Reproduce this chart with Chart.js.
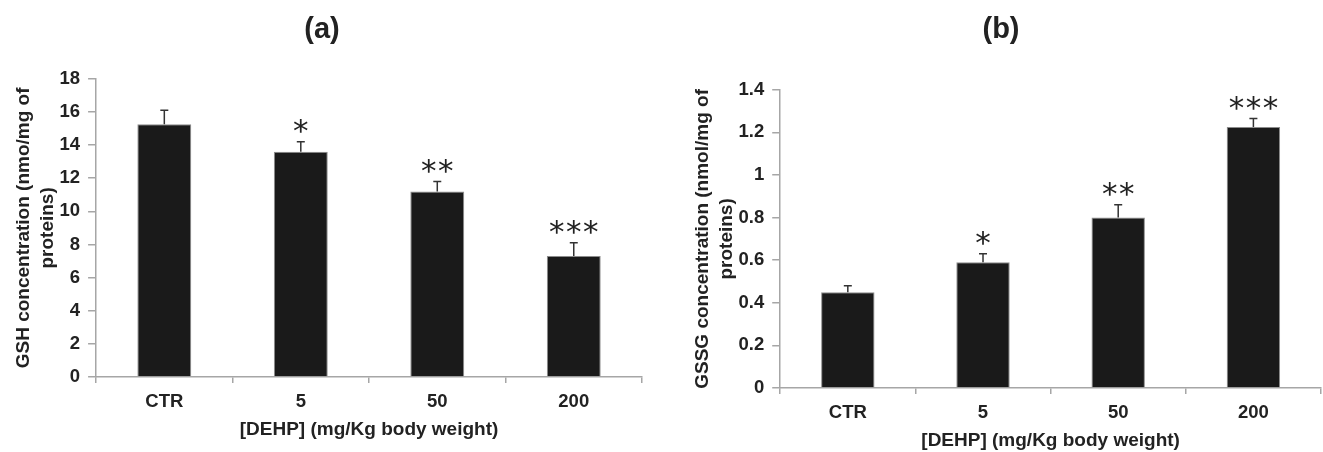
<!DOCTYPE html>
<html>
<head>
<meta charset="utf-8">
<script src="https://cdn.jsdelivr.net/npm/chart.js@4.4.1/dist/chart.umd.min.js"></script>
<style>
  html, body { margin: 0; padding: 0; background: #fff; }
  #wrap { position: relative; width: 1323px; height: 452px; }
  .box { position: absolute; top: 0; height: 452px; }
  #box-a { left: 0; width: 670px; }
  #box-b { left: 676px; width: 647px; }
</style>
</head>
<body>
<div id="wrap">
  <div class="box" id="box-a"><canvas id="chart-a"></canvas></div>
  <div class="box" id="box-b"><canvas id="chart-b"></canvas></div>
</div>
<script>
'use strict';

// ── Data ──────────────────────────────────────────────────────
const categories = ['CTR', '5', '50', '200'];
const gshValues  = [15.25, 13.6, 11.2, 7.3];
const gshErrors  = [0.85, 0.6, 0.6, 0.8];
const gssgValues = [0.45, 0.59, 0.80, 1.225];
const gssgErrors = [0.03, 0.04, 0.06, 0.04];
const starCounts = [0, 1, 2, 3];
const gshTicks   = ['0', '2', '4', '6', '8', '10', '12', '14', '16', '18'];
const gssgTicks  = ['0', '0.2', '0.4', '0.6', '0.8', '1', '1.2', '1.4'];

const FONT = '"Liberation Sans", Arial, Helvetica, sans-serif';
const AXIS = '#a6a6a6';
const INK  = '#222222';

// ── Error bars + significance stars ───────────────────────────
const errorBarPlugin = {
  id: 'errorBars',
  afterDatasetsDraw(chart, args, opts) {
    const { ctx } = chart;
    const y    = chart.scales.y;
    const meta = chart.getDatasetMeta(0);
    const vals = chart.data.datasets[0].data;
    ctx.save();
    ctx.strokeStyle = '#333';
    ctx.lineWidth = 1.5;
    ctx.fillStyle = INK;
    ctx.font = '31px "DejaVu Sans", sans-serif';
    ctx.textAlign = 'center';
    ctx.textBaseline = 'alphabetic';
    meta.data.forEach((bar, i) => {
      const top = y.getPixelForValue(vals[i] + opts.errors[i]);
      ctx.beginPath();
      ctx.moveTo(bar.x, bar.y);
      ctx.lineTo(bar.x, top);
      ctx.moveTo(bar.x - 4, top);
      ctx.lineTo(bar.x + 4, top);
      ctx.stroke();
      const n = opts.stars[i];
      for (let k = 0; k < n; k++) {
        const sx = bar.x + (k - (n - 1) / 2) * 17;
        ctx.fillText('*', sx, top - 1);
      }
    });
    ctx.restore();
  }
};

function makeChart(id, label, values, errors, ticks, max, step, yTitle, pad, titleBottom) {
  const ctx = document.getElementById(id).getContext('2d');
  return new Chart(ctx, {
    type: 'bar',
    data: {
      labels: categories,
      datasets: [{
        data: values,
        backgroundColor: '#1a1a1a',
        borderColor: '#8c8c8c',
        borderWidth: 1,
        barPercentage: 0.395,
        categoryPercentage: 1
      }]
    },
    options: {
      responsive: true, maintainAspectRatio: false, animation: false,
      layout: { padding: pad },
      plugins: {
        legend: { display: false },
        tooltip: { enabled: false },
        title: {
          display: true, text: label, color: INK,
          font: { family: FONT, size: 29, weight: 'bold' },
          padding: { top: 13, bottom: titleBottom }
        },
        errorBars: { errors, stars: starCounts }
      },
      scales: {
        x: {
          border: { color: AXIS, width: 1.5 },
          grid: { display: true, offset: true, drawOnChartArea: false, tickLength: 6, color: AXIS, lineWidth: 1.5 },
          ticks: { color: INK, font: { family: FONT, size: 18.5, weight: 'bold', lineHeight: 1 }, padding: 10 },
          title: { display: true, text: '[DEHP] (mg/Kg body weight)', color: INK,
                   font: { family: FONT, size: 19, weight: 'bold', lineHeight: 1 }, padding: { top: -1, bottom: 0 } }
        },
        y: {
          min: 0, max: max,
          border: { color: AXIS, width: 1.5 },
          grid: { display: true, drawOnChartArea: false, tickLength: 8, color: AXIS, lineWidth: 1.5 },
          ticks: { stepSize: step, color: INK, padding: 8,
                   font: { family: FONT, size: 18.5, weight: 'bold' },
                   callback: (v, i) => ticks[i] },
          title: { display: true, text: yTitle, color: INK,
                   font: { family: FONT, size: 19, weight: 'bold', lineHeight: 1.25 },
                   padding: { top: 10, bottom: -8 } }
        }
      }
    },
    plugins: [errorBarPlugin]
  });
}

makeChart('chart-a', '(a)', gshValues, gshErrors, gshTicks, 18, 2,
  ['GSH concentration (nmo/mg of', 'proteins)'], { left: 2, right: 28, bottom: 12.5 }, 31);
makeChart('chart-b', '(b)', gssgValues, gssgErrors, gssgTicks, 1.4, 0.2,
  ['GSSG concentration (nmol/mg of', 'proteins)'], { left: 5, right: 2, bottom: 1.5 }, 42);
</script>
</body>
</html>
